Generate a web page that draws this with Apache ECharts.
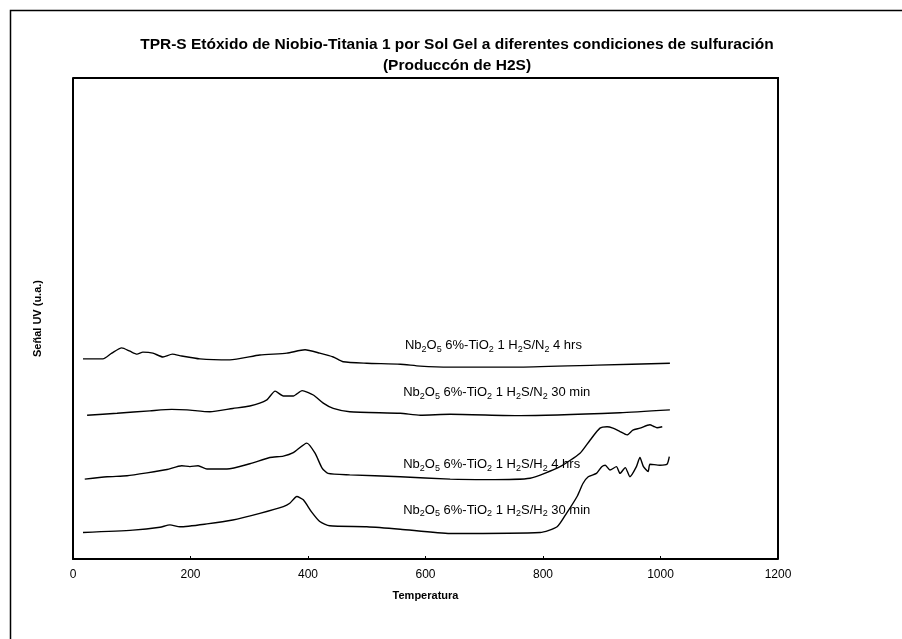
<!DOCTYPE html>
<html>
<head>
<meta charset="utf-8">
<title>TPR-S Etóxido de Niobio-Titania</title>
<script src="https://cdn.jsdelivr.net/npm/echarts@6/dist/echarts.min.js"></script>
<style>
  html, body { margin: 0; padding: 0; background: #fff; }
  #chart { width: 902px; height: 639px; }
</style>
</head>
<body>
<div id="chart"></div>
<script>
// eje X (temperatura)
const xTicks = [0, 200, 400, 600, 800, 1000, 1200];

// curvas [temperatura, señal]
const n2_4hrs = [
  [17, 41.6], [51, 41.6], [66, 42.8], [83, 43.9], [97, 43.2], [109, 42.6], [119, 43.0],
  [136, 42.8], [153, 42.0], [169, 42.6], [185, 42.2], [216, 41.6], [267, 41.4], [318, 42.4],
  [364, 42.8], [395, 43.5], [420, 42.8], [443, 42.0], [460, 41.0], [500, 40.7], [557, 40.5],
  [591, 40.1], [642, 39.9], [761, 39.9], [892, 40.3], [1016, 40.7]
];
const n2_30min = [
  [24, 29.9], [75, 30.3], [131, 30.8], [168, 31.1], [194, 31.0], [233, 30.6], [272, 31.3],
  [301, 31.8], [330, 33.1], [344, 34.9], [358, 33.9], [375, 33.9], [390, 35.0], [409, 34.1],
  [426, 32.4], [443, 31.3], [471, 30.6], [557, 30.3], [591, 29.9], [642, 30.1], [761, 29.8],
  [931, 30.4], [1016, 31.0]
];
const h2_4hrs = [
  [20, 16.6], [58, 17.1], [92, 17.3], [126, 17.9], [160, 18.6], [185, 19.4], [199, 19.2],
  [213, 19.4], [228, 18.7], [262, 18.7], [301, 19.8], [335, 21.1], [358, 21.4], [375, 22.1],
  [398, 24.1], [412, 22.0], [424, 18.9], [434, 17.8], [471, 17.5], [557, 17.1], [642, 16.6],
  [704, 16.5], [778, 16.8], [829, 19.2], [863, 22.0], [880, 24.7], [897, 27.2], [909, 27.5],
  [919, 27.2], [931, 26.5], [943, 25.8], [953, 26.8], [965, 27.2], [982, 27.9], [988, 27.6],
  [994, 27.3], [1003, 27.5]
];
const h2_30min = [
  [17, 5.5], [102, 6.0], [148, 6.6], [165, 7.1], [182, 6.7], [228, 7.3], [272, 8.1],
  [318, 9.5], [358, 10.9], [369, 11.6], [381, 13.0], [392, 12.3], [406, 9.8], [420, 7.8],
  [437, 6.9], [500, 6.7], [557, 6.2], [642, 5.3], [795, 5.5], [824, 6.7], [840, 9.5],
  [858, 13.0], [868, 15.7], [877, 17.1], [891, 17.8], [900, 19.2], [906, 19.5], [914, 18.5],
  [925, 19.2], [931, 17.8], [940, 19.0], [948, 17.1], [959, 19.2], [965, 21.1], [971, 19.2],
  [979, 18.2], [982, 19.7], [999, 19.5], [1011, 19.7], [1015, 21.3]
];

// etiquetas de cada curva: posición [temperatura, señal]
const curveLabels = [
  { at: [565, 44.3], txt: '{m|Nb}{s|2}{m|O}{s|5}{m| 6%-TiO}{s|2}{m| 1 H}{s|2}{m|S/N}{s|2}{m| 4 hrs}' },
  { at: [562, 34.7], txt: '{m|Nb}{s|2}{m|O}{s|5}{m| 6%-TiO}{s|2}{m| 1 H}{s|2}{m|S/N}{s|2}{m| 30 min}' },
  { at: [562, 19.7], txt: '{m|Nb}{s|2}{m|O}{s|5}{m| 6%-TiO}{s|2}{m| 1 H}{s|2}{m|S/H}{s|2}{m| 4 hrs}' },
  { at: [562, 10.2], txt: '{m|Nb}{s|2}{m|O}{s|5}{m| 6%-TiO}{s|2}{m| 1 H}{s|2}{m|S/H}{s|2}{m| 30 min}' }
];

const curves = [n2_4hrs, n2_30min, h2_4hrs, h2_30min];

const chart = echarts.init(document.getElementById('chart'));

const option = {
  backgroundColor: '#fff',
  animation: false,
  title: {
    text: 'TPR-S Etóxido de Niobio-Titania 1 por Sol Gel a diferentes condiciones de sulfuración\n(Produccón de H2S)',
    left: 452,
    textAlign: 'center',
    top: 29,
    textStyle: {
      fontFamily: 'Liberation Sans, Arial, sans-serif',
      fontSize: 15.5,
      fontWeight: 'bold',
      color: '#000',
      lineHeight: 21
    }
  },
  grid: { left: 73, right: 124, top: 78, bottom: 80 },
  xAxis: {
    type: 'value',
    min: xTicks[0],
    max: xTicks[xTicks.length - 1],
    interval: 200,
    name: 'Temperatura',
    nameLocation: 'middle',
    nameGap: 31,
    nameTextStyle: { fontFamily: 'Liberation Sans, Arial', fontSize: 11, fontWeight: 'bold', color: '#000' },
    axisLine: { lineStyle: { color: '#000', width: 2 } },
    axisTick: { inside: true, length: 3, lineStyle: { color: '#000' } },
    axisLabel: {
      fontFamily: 'Liberation Sans, Arial', fontSize: 12, color: '#000', margin: 10,
      formatter: v => String(v)
    },
    splitLine: { show: false }
  },
  yAxis: {
    type: 'value',
    min: 0,
    max: 100,
    name: 'Señal UV (u.a.)',
    nameLocation: 'middle',
    nameGap: 30,
    nameTextStyle: { fontFamily: 'Liberation Sans, Arial', fontSize: 11, fontWeight: 'bold', color: '#000' },
    axisLine: { show: true, lineStyle: { color: '#000', width: 2 } },
    axisTick: { show: false },
    axisLabel: { show: false },
    splitLine: { show: false }
  },
  graphic: [
    // marco exterior
    { type: 'rect', left: 8, top: 8, shape: { width: 1000, height: 1000 },
      style: { fill: 'none', stroke: '#000', lineWidth: 1.5 } },
    // borde superior y derecho del área del gráfico
    { type: 'polyline', shape: { points: [[73, 78], [778, 78], [778, 559]] },
      style: { fill: 'none', stroke: '#000', lineWidth: 2 } }
  ],
  series: curves.map((data, i) => ({
    type: 'line',
    data: data,
    showSymbol: false,
    symbol: 'none',
    smooth: 0.2,
    lineStyle: { color: '#000', width: 1.4 },
    markPoint: {
      symbol: 'rect',
      symbolSize: 0,
      data: [{ coord: curveLabels[i].at }],
      label: {
        show: true,
        position: 'right',
        distance: 0,
        formatter: curveLabels[i].txt,
        rich: {
          m: { fontFamily: 'Liberation Sans, Arial', fontSize: 13, color: '#000', lineHeight: 17 },
          s: { fontFamily: 'Liberation Sans, Arial', fontSize: 9, color: '#000', lineHeight: 17, verticalAlign: 'bottom' }
        }
      }
    }
  }))
};

chart.setOption(option);
</script>
</body>
</html>
